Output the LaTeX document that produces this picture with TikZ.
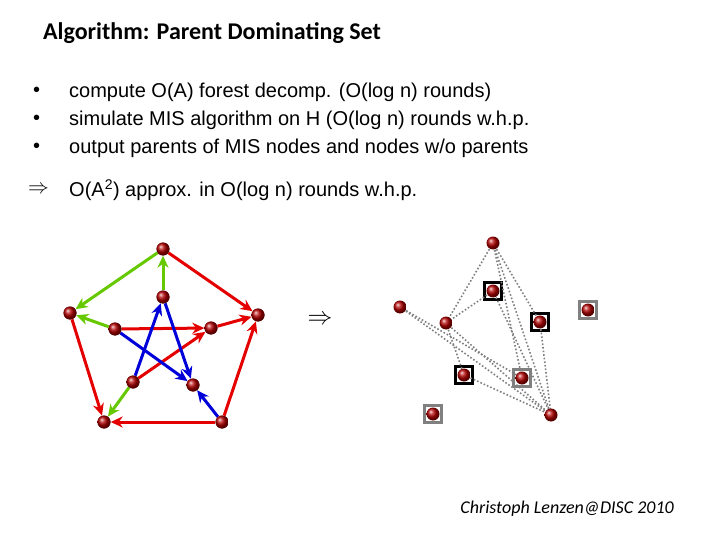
\documentclass[tikz,border=0pt]{standalone}
\usepackage{fontspec}
\setmainfont{Liberation Sans}
\newfontfamily\carlitofont{Carlito}
\usetikzlibrary{arrows.meta,shadings}
\begin{document}
\begin{tikzpicture}[x=1pt,y=-1pt,
  ball/.style={circle,inner sep=0pt,minimum size=13pt,ball color=red!70!black,draw=none},
  gr/.style={draw=green!65!black!60!yellow,line width=3pt,-{Stealth[length=12pt,width=11pt]}},
  rd/.style={draw=red!90!black,line width=3pt,-{Stealth[length=12pt,width=11pt]}},
  bl/.style={draw=blue!85!black,line width=3pt,-{Stealth[length=12pt,width=11pt]}},
  dt/.style={draw=gray,dotted,line width=1.6pt},
  bbox/.style={draw=black,line width=3pt,minimum size=17pt,inner sep=0pt},
  gbox/.style={draw=gray,line width=3pt,minimum size=17pt,inner sep=0pt},
  txt/.style={anchor=west,inner sep=0pt,font=\fontsize{20}{24}\selectfont}]
\useasboundingbox (0,0) rectangle (720,540);
\node[anchor=west,inner sep=0pt,font=\carlitofont\bfseries\fontsize{24}{28}\selectfont] (title) at (43,33) {Algorithm: Parent Dominating Set};
\node[txt] (b1) at (33,92) {•};
\node[txt] (b2) at (33,120) {•};
\node[txt] (b3) at (33,148) {•};
\node[txt] (t1) at (69,92) {compute O(A) forest decomp. (O(log n) rounds)};
\node[txt] (t2) at (69,120) {simulate MIS algorithm on H (O(log n) rounds w.h.p.};
\node[txt] (t3) at (69,148) {output parents of MIS nodes and nodes w/o parents};
\node[txt] (imp) at (28,190) {$\Rightarrow$};
\node[txt] (t4) at (69,190) {O(A\textsuperscript{2}) approx. in O(log n) rounds w.h.p.};
\node[font=\fontsize{26}{28}\selectfont] (arr) at (320,320) {$\Rightarrow$};
% left graph
\node[ball] (O1) at (163,249) {};
\node[ball] (O2) at (70,313) {};
\node[ball] (O3) at (258,315) {};
\node[ball] (O4) at (104,422) {};
\node[ball] (O5) at (222,422) {};
\node[ball] (I1) at (163,297) {};
\node[ball] (I2) at (115,329) {};
\node[ball] (I3) at (211,328) {};
\node[ball] (I4) at (133,382) {};
\node[ball] (I5) at (193,385) {};
\draw[gr] (O1)--(O2);
\draw[gr] (I1)--(O1);
\draw[gr] (I2)--(O2);
\draw[gr] (I4)--(O4);
\draw[rd] (O1)--(O3);
\draw[rd] (O2)--(O4);
\draw[rd] (O5)--(O4);
\draw[rd] (O5)--(O3);
\draw[rd] (I3)--(O3);
\draw[rd] (I2)--(I3);
\draw[rd] (I4)--(I3);
\draw[bl] (I4)--(I1);
\draw[bl] (I1)--(I5);
\draw[bl] (I2)--(I5);
\draw[bl] (O5)--(I5);
\foreach \n in {O1,O2,O3,O4,O5,I1,I2,I3,I4,I5} \node[ball] at (\n) {};
% right graph
\node[bbox] (Bb) at (493,291) {};
\node[bbox] (Eb) at (540,322) {};
\node[gbox] (Fb) at (588,310) {};
\node[bbox] (Gb) at (464,375) {};
\node[gbox] (Hb) at (522,378) {};
\node[gbox] (Jb) at (433,414) {};
\coordinate (A) at (493,243);
\coordinate (C) at (400,307);
\coordinate (D) at (446,323);
\coordinate (K) at (551,415);
\draw[dt] (A)--(D); \draw[dt] (A)--(Eb.center); \draw[dt] (A)--(K); \draw[dt] (A)--(Hb.center);
\draw[dt] (Bb.center)--(D); \draw[dt] (Bb.center)--(K);
\draw[dt] (C)--(K); \draw[dt] (C)--(Hb.center);
\draw[dt] (D)--(Gb.center); \draw[dt] (D)--(K);
\draw[dt] (Gb.center)--(K); \draw[dt] (Eb.center)--(K);
\foreach \p in {A,C,D,K,Bb.center,Eb.center,Fb.center,Gb.center,Hb.center,Jb.center} \node[ball] at (\p) {};
\node[anchor=east,inner sep=0pt,font=\carlitofont\itshape\fontsize{18}{21}\selectfont] (foot) at (674,509) {Christoph Lenzen@DISC 2010};
\end{tikzpicture}
\end{document}
